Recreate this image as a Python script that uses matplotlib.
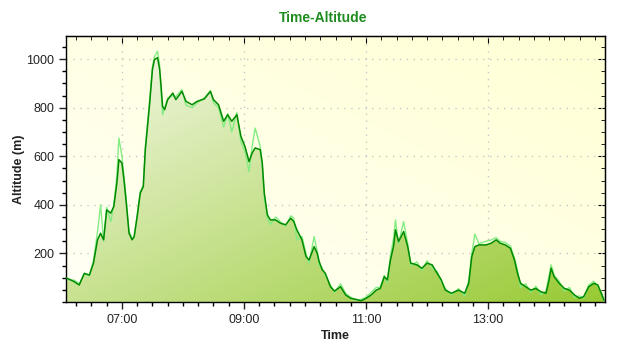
import matplotlib
matplotlib.use("Agg")
import matplotlib.pyplot as plt
import numpy as np
from matplotlib.ticker import MultipleLocator, FuncFormatter, FixedLocator

plt.rcParams['font.family'] = ['Liberation Sans', 'DejaVu Sans']

# ---- data (time of day, altitude in m) ----
times = ["06:05","06:06","06:13","06:18","06:23","06:28","06:32","06:36","06:39","06:42",
         "06:45","06:49","06:52","06:55","06:57","07:00","07:02","07:04","07:07","07:10",
         "07:12","07:15","07:18","07:21","07:23","07:27","07:30","07:32","07:35","07:37",
         "07:38","07:40","07:42","07:45","07:50","07:53","07:59","08:03","08:09","08:14",
         "08:21","08:27","08:30","08:35","08:40","08:44","08:48","08:53","08:57","09:01",
         "09:05","09:08","09:11","09:16","09:18","09:20","09:23","09:26","09:31","09:36",
         "09:41","09:46","09:49","09:52","09:57","10:01","10:04","10:09","10:12","10:14",
         "10:17","10:20","10:25","10:29","10:35","10:40","10:45","10:50","10:55","11:00",
         "11:05","11:10","11:14","11:18","11:21","11:24","11:27","11:29","11:32","11:37",
         "11:41","11:44","11:50","11:55","12:00","12:05","12:10","12:14","12:18","12:24",
         "12:31","12:37","12:41","12:44","12:47","12:51","12:58","13:03","13:08","13:12",
         "13:17","13:22","13:26","13:29","13:32","13:37","13:42","13:47","13:52","13:57",
         "14:00","14:02","14:05","14:10","14:15","14:20","14:25","14:30","14:34","14:39",
         "14:44","14:48","14:52","14:54"]

alt_gps = [100, 98, 84, 70, 118, 111, 160, 256, 283, 256,
           379, 366, 393, 489, 586, 572, 503, 420, 283, 256,
           269, 352, 448, 475, 627, 805, 957, 998, 1006, 960,
           915, 805, 792, 833, 860, 833, 867, 826, 812, 826,
           836, 867, 833, 812, 744, 771, 744, 771, 682, 640,
           578, 613, 634, 627, 572, 448, 359, 338, 338, 324,
           318, 345, 331, 297, 256, 187, 173, 228, 201, 166,
           132, 118, 63, 45, 63, 29, 15, 11, 5, 15,
           29, 49, 56, 104, 91, 173, 228, 297, 249, 290,
           228, 160, 153, 139, 160, 153, 118, 91, 49, 36,
           49, 36, 77, 187, 228, 235, 235, 242, 256, 242,
           235, 221, 173, 118, 77, 63, 49, 56, 42, 36,
           91, 139, 104, 77, 56, 49, 29, 15, 22, 63,
           77, 70, 29, 8]

alt_baro = [95, 92, 90, 75, 115, 108, 170, 290, 400, 250,
            390, 330, 400, 520, 675, 600, 520, 430, 290, 262,
            265, 360, 455, 480, 640, 820, 970, 1010, 1032, 980,
            890, 771, 800, 840, 850, 845, 875, 810, 800, 820,
            840, 870, 820, 800, 720, 775, 700, 780, 660, 620,
            537, 640, 716, 640, 560, 430, 345, 320, 350, 330,
            312, 355, 345, 256, 270, 200, 160, 269, 210, 150,
            140, 110, 70, 40, 75, 35, 20, 8, 10, 20,
            40, 60, 60, 110, 80, 190, 260, 338, 240, 331,
            240, 150, 165, 130, 170, 140, 125, 85, 55, 30,
            55, 25, 90, 200, 280, 240, 250, 255, 265, 250,
            245, 230, 180, 130, 60, 75, 40, 65, 30, 45,
            110, 153, 110, 85, 45, 60, 20, 25, 15, 70,
            85, 65, 35, 5]

y_ticks = [200, 400, 600, 800, 1000]
x_tick_labels = ["07:00", "09:00", "11:00", "13:00"]

def to_min(s):
    h, m = s.split(":")
    return int(h) * 60 + int(m)

t = np.array([to_min(s) for s in times], dtype=float)
g = np.array(alt_gps, dtype=float)
b = np.array(alt_baro, dtype=float)

fig = plt.figure(figsize=(6.4, 3.5), dpi=100)
fig.patch.set_facecolor('white')
ax = fig.add_axes([66/640, 48/350, 539/640, 266/350])

xmin, xmax = 365, 895
ymin, ymax = 0, 1095
ax.set_xlim(xmin, xmax)
ax.set_ylim(ymin, ymax)

# background gradient (bottom-left whitish -> top-right light yellow)
n = 200
u = np.linspace(0, 1, n)
U, V = np.meshgrid(u, u)
w = (U + V) / 2
c0 = np.array([255, 255, 246]) / 255
c1 = np.array([255, 255, 212]) / 255
bg = c0[None, None, :] * (1 - w[..., None]) + c1[None, None, :] * w[..., None]
ax.imshow(bg, extent=(0, 1, 0, 1), transform=ax.transAxes, origin='lower',
          aspect='auto', zorder=0, interpolation='bilinear')

# grid
ax.grid(True, which='major', linestyle=(0, (1, 4)), color='#c8c8c8', linewidth=1)
ax.set_axisbelow(True)

# area fill with gradient
poly = ax.fill_between(t, g, ymin, facecolor='none', edgecolor='none', zorder=1)
w2 = (U + (1 - V)) / 2
f0 = np.array([248, 250, 238]) / 255
f1 = np.array([152, 202, 52]) / 255
fg = f0[None, None, :] * (1 - w2[..., None]) + f1[None, None, :] * w2[..., None]
im = ax.imshow(fg, extent=(0, 1, 0, 1), transform=ax.transAxes, origin='lower',
               aspect='auto', zorder=1, interpolation='bilinear')
im.set_clip_path(poly.get_paths()[0], transform=ax.transData)

ax.plot(t, b, color='#84ec84', linewidth=1.0, zorder=2)
ax.plot(t, g, color='#008a00', linewidth=1.1, zorder=3)

# ticks
ax.xaxis.set_major_locator(FixedLocator([to_min(s) for s in x_tick_labels]))
ax.xaxis.set_minor_locator(MultipleLocator(15))
ax.xaxis.set_major_formatter(FuncFormatter(lambda v, p: f"{int(v//60):02d}:{int(v%60):02d}"))
ax.yaxis.set_major_locator(FixedLocator(y_ticks))
ax.yaxis.set_minor_locator(MultipleLocator(50))
ax.tick_params(which='major', length=5, width=1, direction='out', labelsize=9, colors='#222222')
ax.tick_params(which='minor', length=3, width=1, direction='out')

sx = ax.secondary_xaxis('top')
sx.xaxis.set_major_locator(FixedLocator([to_min(s) for s in x_tick_labels]))
sx.xaxis.set_minor_locator(MultipleLocator(15))
sx.tick_params(which='major', length=5, direction='in', labeltop=False)
sx.tick_params(which='minor', length=3, direction='in')
sy = ax.secondary_yaxis('right')
sy.yaxis.set_major_locator(FixedLocator(y_ticks))
sy.yaxis.set_minor_locator(MultipleLocator(50))
sy.tick_params(which='major', length=5, direction='in', labelright=False)
sy.tick_params(which='minor', length=3, direction='in')

for sp in ax.spines.values():
    sp.set_color('black')
    sp.set_linewidth(1)

ax.set_xlabel("Time", fontsize=9, fontweight='bold', color='#222222', labelpad=3)
ax.set_ylabel("Altitude (m)", fontsize=9, fontweight='bold', color='#222222', labelpad=1)
fig.text(323/640, 1 - 18/350, "Time-Altitude", ha='center', va='center',
         fontsize=10, fontweight='bold', color='#1e8c1e')

fig.savefig("out.png", dpi=100)
